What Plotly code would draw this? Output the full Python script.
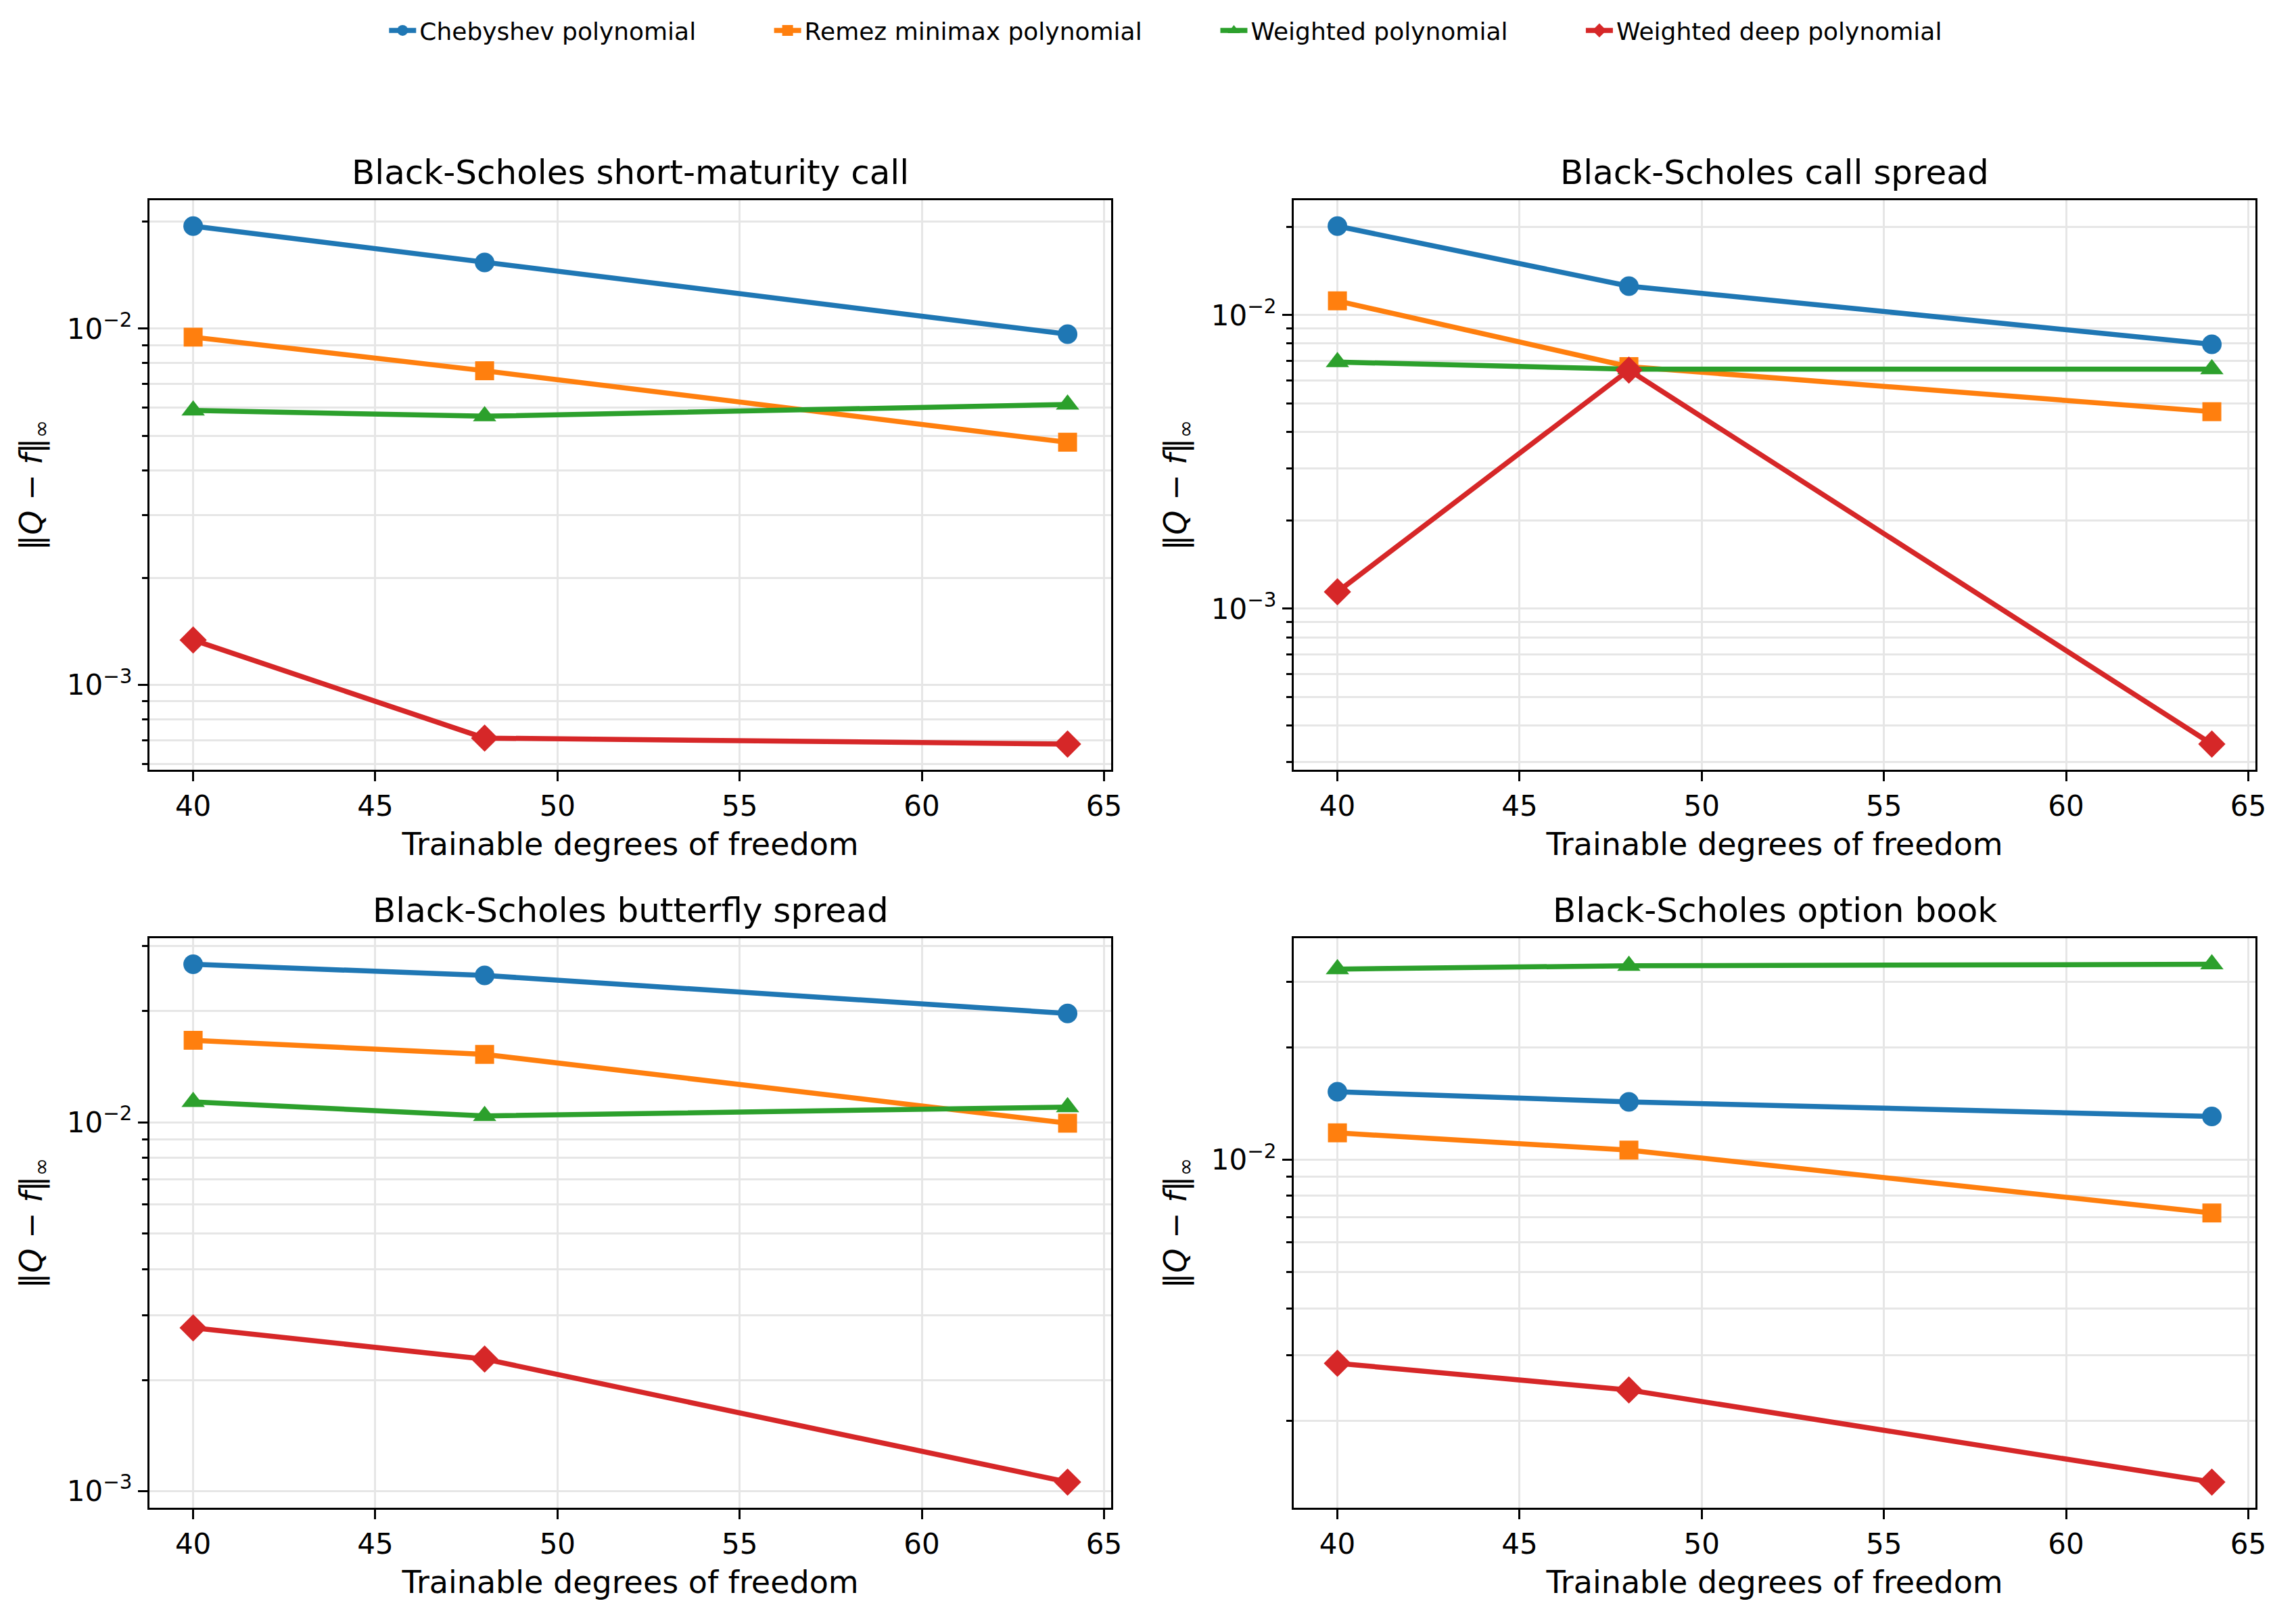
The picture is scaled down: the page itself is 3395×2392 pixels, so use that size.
import math
import plotly.graph_objects as go

# ---------------- data ----------------
dof = [40, 48, 64]

series_names = ["Chebyshev polynomial", "Remez minimax polynomial",
                "Weighted polynomial", "Weighted deep polynomial"]

panel_titles = ["Black-Scholes short-maturity call", "Black-Scholes call spread",
                "Black-Scholes butterfly spread", "Black-Scholes option book"]

# Black-Scholes short-maturity call
call_chebyshev = [0.0194, 0.01534, 0.00965]
call_remez = [0.00947, 0.00762, 0.00480]
call_weighted = [0.00590, 0.00568, 0.00613]
call_deep = [0.001338, 0.000710, 0.000683]

# Black-Scholes call spread
spread_chebyshev = [0.0201, 0.01256, 0.00796]
spread_remez = [0.01118, 0.00668, 0.00469]
spread_weighted = [0.00692, 0.00655, 0.00655]
spread_deep = [0.001142, 0.00650, 0.000346]

# Black-Scholes butterfly spread
butterfly_chebyshev = [0.0268, 0.0250, 0.01972]
butterfly_remez = [0.01668, 0.01527, 0.00994]
butterfly_weighted = [0.01135, 0.0104, 0.01099]
butterfly_deep = [0.00277, 0.00228, 0.001058]

# Black-Scholes option book
book_chebyshev = [0.0152, 0.01429, 0.01306]
book_remez = [0.01180, 0.01061, 0.00720]
book_weighted = [0.0324, 0.03307, 0.03337]
book_deep = [0.00285, 0.002417, 0.00137]

y_major_labels = {-3: "10<sup>−3</sup>", -2: "10<sup>−2</sup>"}

# ---------------- style ----------------
colors = ["#1f77b4", "#ff7f0e", "#2ca02c", "#d62728"]
symbols = ["circle", "square", "triangle-up", "diamond"]
marker_sizes = [29, 28, 30, 31]
FONT = "DejaVu Sans"
GRID = "#e6e6e6"

W, H = 3395, 2392
x_doms = [[222 / W, 1651 / W], [1922 / W, 3351 / W]]
y_doms = [[1 - 1138.3 / H, 1 - 296 / H], [1 - 2229.3 / H, 1 - 1387.3 / H]]
legend_x = [573 / W, 1145 / W, 1808 / W, 2351 / W]
legend_ids = ["legend", "legend2", "legend3", "legend4"]

panels = [
    [call_chebyshev, call_remez, call_weighted, call_deep],
    [spread_chebyshev, spread_remez, spread_weighted, spread_deep],
    [butterfly_chebyshev, butterfly_remez, butterfly_weighted, butterfly_deep],
    [book_chebyshev, book_remez, book_weighted, book_deep],
]

fig = go.Figure()
annotations = []

for p, series in enumerate(panels):
    row, col = divmod(p, 2)
    idx = "" if p == 0 else str(p + 1)
    xa, ya = "x" + idx, "y" + idx
    for s, vals in enumerate(series):
        fig.add_trace(go.Scatter(
            x=dof, y=vals, xaxis=xa, yaxis=ya,
            mode="lines+markers", name=series_names[s],
            legend=legend_ids[s], showlegend=(p == 0),
            line=dict(color=colors[s], width=7.5),
            marker=dict(color=colors[s], symbol=symbols[s], size=marker_sizes[s],
                        line=dict(width=0)),
        ))

    # axis ranges with matplotlib-like 5% margins
    allv = [v for vals in series for v in vals]
    lo, hi = math.log10(min(allv)), math.log10(max(allv))
    span = hi - lo
    yr = [lo - 0.05 * span, hi + 0.05 * span]
    xspan = max(dof) - min(dof)
    xr = [min(dof) - 0.05 * xspan, max(dof) + 0.05 * xspan]

    majors = [e for e in range(math.floor(yr[0]), math.ceil(yr[1]) + 1)
              if yr[0] <= e <= yr[1]]
    minors = []
    for e in range(math.floor(yr[0]), math.ceil(yr[1]) + 1):
        for m in range(2, 10):
            v = m * 10 ** e
            if yr[0] <= math.log10(v) <= yr[1]:
                minors.append(v)

    axis_common = dict(showline=True, linecolor="black", linewidth=3, mirror=True,
                       ticks="outside", tickcolor="black", tickwidth=3, ticklen=14,
                       showgrid=True, gridcolor=GRID, gridwidth=3, zeroline=False,
                       tickfont=dict(family=FONT, size=42, color="black"))

    fig.layout["xaxis" + idx] = dict(
        domain=x_doms[col], anchor=ya, range=xr,
        tickmode="linear", tick0=40, dtick=5,
        title=dict(text="Trainable degrees of freedom",
                   font=dict(family=FONT, size=46, color="black"), standoff=18),
        **axis_common)
    fig.layout["yaxis" + idx] = dict(
        domain=y_doms[row], anchor=xa, type="log", range=yr,
        tickmode="array", tickvals=[10 ** e for e in majors],
        ticktext=[y_major_labels.get(e, "") for e in majors],
        minor=dict(tickmode="array", tickvals=minors, ticks="outside", ticklen=8,
                   tickwidth=3, tickcolor="black", showgrid=True, gridcolor=GRID,
                   gridwidth=3),
        title=dict(text="‖<i>Q</i> − <i>f</i>‖<sub>∞</sub>",
                   font=dict(family=FONT, size=46, color="black"), standoff=22),
        **axis_common)

    annotations.append(dict(
        text=panel_titles[p], xref="paper", yref="paper",
        x=sum(x_doms[col]) / 2, y=y_doms[row][1], xanchor="center", yanchor="bottom",
        yshift=10, showarrow=False, font=dict(family=FONT, size=50, color="black")))

legend_style = dict(orientation="h", xanchor="left", y=1 - 45 / H, yanchor="middle",
                    font=dict(family=FONT, size=36, color="black"),
                    itemwidth=40, bgcolor="rgba(0,0,0,0)")

fig.update_layout(
    width=W, height=H,
    margin=dict(l=0, r=0, t=0, b=0),
    paper_bgcolor="white", plot_bgcolor="white",
    font=dict(family=FONT, color="black"),
    annotations=annotations,
)
for lid, lx in zip(legend_ids, legend_x):
    fig.layout[lid] = dict(x=lx, **legend_style)

fig.write_html("out.html")
